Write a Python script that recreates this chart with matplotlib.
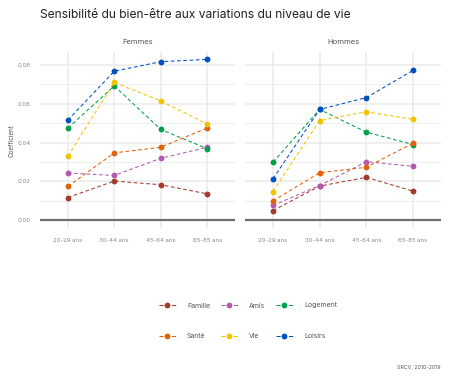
import matplotlib
matplotlib.use("Agg")
import matplotlib.pyplot as plt
from matplotlib.lines import Line2D
import numpy as np

plt.rcParams['font.family'] = ['Inter', 'DejaVu Sans']

ages = ["20-29 ans", "30-44 ans", "45-64 ans", "65-85 ans"]
panels = ["Femmes", "Hommes"]
series = ["Famille", "Amis", "Logement", "Santé", "Vie", "Loisirs"]
colors = {"Famille": "#A23B2A", "Amis": "#B45AAE", "Logement": "#00A04B",
          "Santé": "#E0620A", "Vie": "#F4C300", "Loisirs": "#0050C0"}

femmes = {
    "Famille":  [0.0117, 0.0202, 0.0183, 0.0136],
    "Amis":     [0.0243, 0.0231, 0.0319, 0.0376],
    "Logement": [0.0475, 0.0692, 0.0468, 0.0369],
    "Santé":    [0.0174, 0.0347, 0.0376, 0.0475],
    "Vie":      [0.0330, 0.0710, 0.0615, 0.0496],
    "Loisirs":  [0.0516, 0.0768, 0.0817, 0.0829],
}
hommes = {
    "Famille":  [0.0050, 0.0176, 0.0221, 0.0150],
    "Amis":     [0.0076, 0.0179, 0.0302, 0.0278],
    "Logement": [0.0299, 0.0571, 0.0454, 0.0390],
    "Santé":    [0.0100, 0.0245, 0.0273, 0.0397],
    "Vie":      [0.0148, 0.0514, 0.0559, 0.0520],
    "Loisirs":  [0.0214, 0.0571, 0.0632, 0.0772],
}
data = {"Femmes": femmes, "Hommes": hommes}

W, H = 450, 382
fig = plt.figure(figsize=(4.5, 3.82), dpi=100)

def fx(px): return px / W
def fy(py): return 1 - py / H

ax_left = [40, 245]
ax_w = [195, 196]
top, bot = 52, 228.2
ymin, ymax = -0.0041, 0.0867
grid_c = "#EBEBEB"
txt_c = "#8A8A8A"

x = np.arange(len(ages))
for i, p in enumerate(panels):
    ax = fig.add_axes([fx(ax_left[i]), fy(bot), fx(ax_w[i]), (bot - top) / H])
    ax.set_xlim(-0.6, 3.6)
    ax.set_ylim(ymin, ymax)
    for s in ax.spines.values():
        s.set_visible(False)
    ax.set_yticks([0, 0.02, 0.04, 0.06, 0.08])
    ax.set_yticks([0.01, 0.03, 0.05, 0.07], minor=True)
    ax.set_xticks(x)
    ax.set_xticklabels(ages)
    ax.grid(True, which='major', color=grid_c, lw=1.1)
    ax.grid(True, which='minor', axis='y', color=grid_c, lw=0.6)
    ax.set_axisbelow(True)
    ax.tick_params(which='both', length=0, labelsize=4.3, colors=txt_c, pad=7)
    if i == 0:
        ax.set_yticklabels(["0.00", "0.02", "0.04", "0.06", "0.08"])
        ax.set_ylabel("Coefficient", fontsize=4.5, color="#555555", labelpad=1.5)
    else:
        ax.set_yticklabels([])
    ax.axhline(0, color="#6E6E6E", lw=1.6, zorder=1)
    for s in series:
        ax.plot(x, data[p][s], color=colors[s], lw=0.75, dashes=(3.5, 2.5),
                marker='o', markersize=4.2, markeredgewidth=0, zorder=3)
    ax.set_title(p, fontsize=5.5, color="#555555", pad=6)

fig.text(fx(40), fy(15), "Sensibilité du bien-être aux variations du niveau de vie",
         fontsize=8.7, color="#222222", va='center', ha='left')

order = ["Famille", "Santé", "Amis", "Vie", "Logement", "Loisirs"]
handles = [Line2D([0], [0], color=colors[s], lw=0.75, dashes=(4.0, 2.0),
                  marker='o', markersize=4.2, markeredgewidth=0) for s in order]
leg = fig.legend(handles, order, ncol=3, loc='center',
                 bbox_to_anchor=(fx(248), fy(321)), frameon=False,
                 fontsize=5, labelcolor="#555555", handlelength=2.4,
                 handletextpad=1.6, columnspacing=1.6, labelspacing=3.6)

fig.text(fx(441), fy(368), "SRCV, 2010-2019", fontsize=3.8, color="#555555",
         ha='right', va='center')

fig.savefig("out.png", dpi=100)
